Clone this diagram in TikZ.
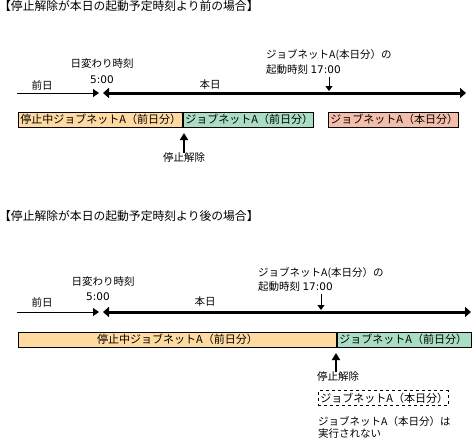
\documentclass[tikz,border=0pt]{standalone}
\usepackage{fontspec}
\setmainfont{Noto Sans CJK JP}
\newfontfamily\digits{DejaVu Sans}
\usetikzlibrary{arrows.meta}
\definecolor{ffdaa0}{rgb}{1,0.855,0.63}
\definecolor{aadec4}{rgb}{0.667,0.87,0.77}
\definecolor{f5beaa}{rgb}{0.96,0.745,0.667}
\tikzset{
  lbl/.style={font=\fontsize{10.5}{12}\selectfont, inner sep=0pt},
  ttl/.style={font=\fontsize{11.8}{13}\selectfont, inner sep=0pt, anchor=west},
  jobbox/.style={draw=black, line width=0.9pt, minimum height=15pt, inner sep=0pt, font=\fontsize{11}{12}\selectfont},
  thinax/.style={line width=0.9pt, -{Triangle[length=6pt,width=8pt]}},
  thickax/.style={line width=3pt, {Triangle[length=6pt,width=10pt]}-{Triangle[length=6pt,width=10pt]}},
  downarr/.style={line width=0.9pt, -{Triangle[length=5pt,width=7pt]}},
  uparr/.style={line width=1.8pt, -{Triangle[length=7pt,width=8pt]}}
}
\begin{document}
\begin{tikzpicture}[line cap=butt,line join=miter,x=1pt,y=-1pt]
\useasboundingbox (0,0) rectangle (472,440);
% before
\node[ttl] (t1) at (-1,6) {【停止解除が本日の起動予定時刻より前の場合】};
\node[lbl] (prev1) at (42,85) {前日};
\node[lbl] (chg1) at (102,64) {日変わり時刻};
\node[lbl] (five1) at (102,80) {{\digits 5:00}};
\node[lbl] (today1) at (210,85) {本日};
\node[lbl,anchor=west] (st1a) at (266,55) {ジョブネットA(本日分）の};
\node[lbl,anchor=west] (st1b) at (266,70) {起動時刻 {\digits 17:00}};
\coordinate (a1s) at (17,93);
\coordinate (a1m) at (99,93);
\coordinate (a1n) at (103,93);
\coordinate (a1e) at (466,93);
\coordinate (d1) at (329,91);
\coordinate (d1t) at (329,77);
\draw[thinax] (a1s) -- (a1m);
\draw[thickax] (a1n) -- (a1e);
\draw[downarr] (d1t) -- (d1);
\node[jobbox,fill=ffdaa0,minimum width=164pt,text width=160pt,align=left,anchor=west] (b1a) at (18,119.5) {停止中ジョブネットA（前日分）};
\node[jobbox,fill=aadec4,minimum width=130pt,text width=126pt,align=left,anchor=west] (b1b) at (b1a.east) {ジョブネットA（前日分）};
\node[jobbox,fill=f5beaa,minimum width=130pt,text width=126pt,align=left,anchor=west] (b1c) at (328,119.5) {ジョブネットA（本日分）};
\node[lbl] (rel1) at (184,158) {停止解除};
\coordinate (u1) at (184,133);
\draw[uparr] (rel1.north) -- (u1);
% after
\node[ttl] (t2) at (-1,216) {【停止解除が本日の起動予定時刻より後の場合】};
\node[lbl] (prev2) at (42,302) {前日};
\node[lbl] (chg2) at (103,282) {日変わり時刻};
\node[lbl] (five2) at (98,297) {{\digits 5:00}};
\node[lbl] (today2) at (205,302) {本日};
\node[lbl,anchor=west] (st2a) at (258,273) {ジョブネットA(本日分）の};
\node[lbl,anchor=west] (st2b) at (258,287) {起動時刻 {\digits 17:00}};
\coordinate (a2s) at (17,312);
\coordinate (a2m) at (99,312);
\coordinate (a2n) at (103,312);
\coordinate (a2e) at (471,312);
\coordinate (d2) at (321,310);
\coordinate (d2t) at (321,294);
\draw[thinax] (a2s) -- (a2m);
\draw[thickax] (a2n) -- (a2e);
\draw[downarr] (d2t) -- (d2);
\node[jobbox,fill=ffdaa0,minimum width=318pt,anchor=west] (b2a) at (18,339.5) {停止中ジョブネットA（前日分）};
\node[jobbox,fill=aadec4,minimum width=134pt,text width=130pt,align=left,anchor=west] (b2b) at (b2a.east) {ジョブネットA（前日分）};
\node[lbl] (rel2) at (338,377) {停止解除};
\coordinate (u2) at (336,353);
\draw[uparr] (rel2.north -| u2) -- (u2);
\node[jobbox,dashed,line width=0.8pt,minimum width=130pt,minimum height=15pt,text width=126pt,align=left,anchor=west] (b2c) at (318,398) {ジョブネットA（本日分）};
\node[lbl,anchor=west] (nr1) at (318,421) {ジョブネットA（本日分）は};
\node[lbl,anchor=west] (nr2) at (318,434) {実行されない};
\end{tikzpicture}
\end{document}
